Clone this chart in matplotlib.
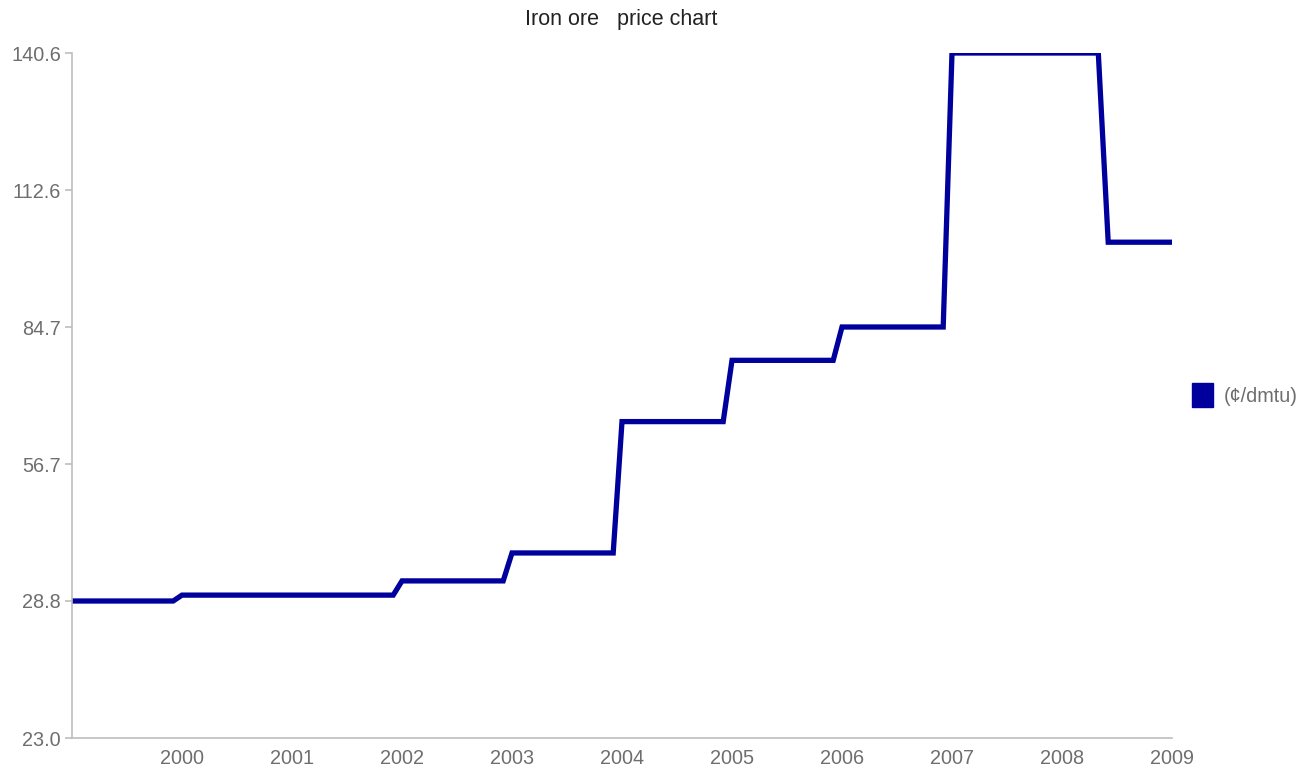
import matplotlib.pyplot as plt
from matplotlib.patches import Patch

# step dates (decimal years) and price levels
dates = [1999.0, 1999.92, 2000.0, 2001.92, 2002.0, 2002.92, 2003.0, 2003.92,
         2004.0, 2004.92, 2005.0, 2005.92, 2006.0, 2006.92, 2007.0, 2008.33,
         2008.42, 2009.0]
prices = [28.8, 28.8, 30.0, 30.0, 32.9, 32.9, 38.6, 38.6,
          65.4, 65.4, 77.9, 77.9, 84.7, 84.7, 140.6, 140.6,
          102.0, 102.0]

year_ticks = [2000, 2001, 2002, 2003, 2004, 2005, 2006, 2007, 2008, 2009]
y_tick_pos = [0.85, 28.8, 56.7, 84.7, 112.6, 140.6]
y_tick_labels = ["23.0", "28.8", "56.7", "84.7", "112.6", "140.6"]

series_name = "(¢/dmtu)"
line_color = "#00009c"
grey_text = "#6e6e6e"
grey_axis = "#bdbdbd"

plt.rcParams["font.family"] = ["Liberation Sans", "DejaVu Sans"]

W, H = 1305, 771
fig = plt.figure(figsize=(W / 100, H / 100), dpi=100)
ax = fig.add_axes([72 / W, 1 - 738 / H, (1172 - 72) / W, (738 - 53) / H])

ax.plot(dates, prices, color=line_color, lw=3.8, solid_joinstyle="miter")

ax.set_xlim(1999.0, 2009.0)
ax.set_ylim(y_tick_pos[0], y_tick_pos[-1])

ax.set_xticks(year_ticks)
ax.set_xticklabels([str(y) for y in year_ticks])
ax.set_yticks(y_tick_pos)
ax.set_yticklabels(y_tick_labels)

for s in ["top", "right"]:
    ax.spines[s].set_visible(False)
for s in ["left", "bottom"]:
    ax.spines[s].set_color(grey_axis)
    ax.spines[s].set_linewidth(1.2)

ax.tick_params(axis="x", length=0, pad=8, labelsize=14.3, labelcolor=grey_text)
ax.tick_params(axis="y", length=5, width=1.2, color=grey_axis, pad=3,
               labelsize=14.3, labelcolor=grey_text)

fig.text(621 / W, 1 - 20 / H, "Iron ore   price chart", ha="center", va="center",
         fontsize=15.5, color="#222222")

fig.legend(handles=[Patch(facecolor=line_color, edgecolor=line_color)],
           labels=[series_name], loc="center left",
           bbox_to_anchor=(1174 / W, 1 - 395 / H), frameon=False,
           handlelength=1.05, handleheight=1.45, handletextpad=0.55,
           fontsize=14.3, labelcolor=grey_text)

fig.savefig("out.png", dpi=100)
